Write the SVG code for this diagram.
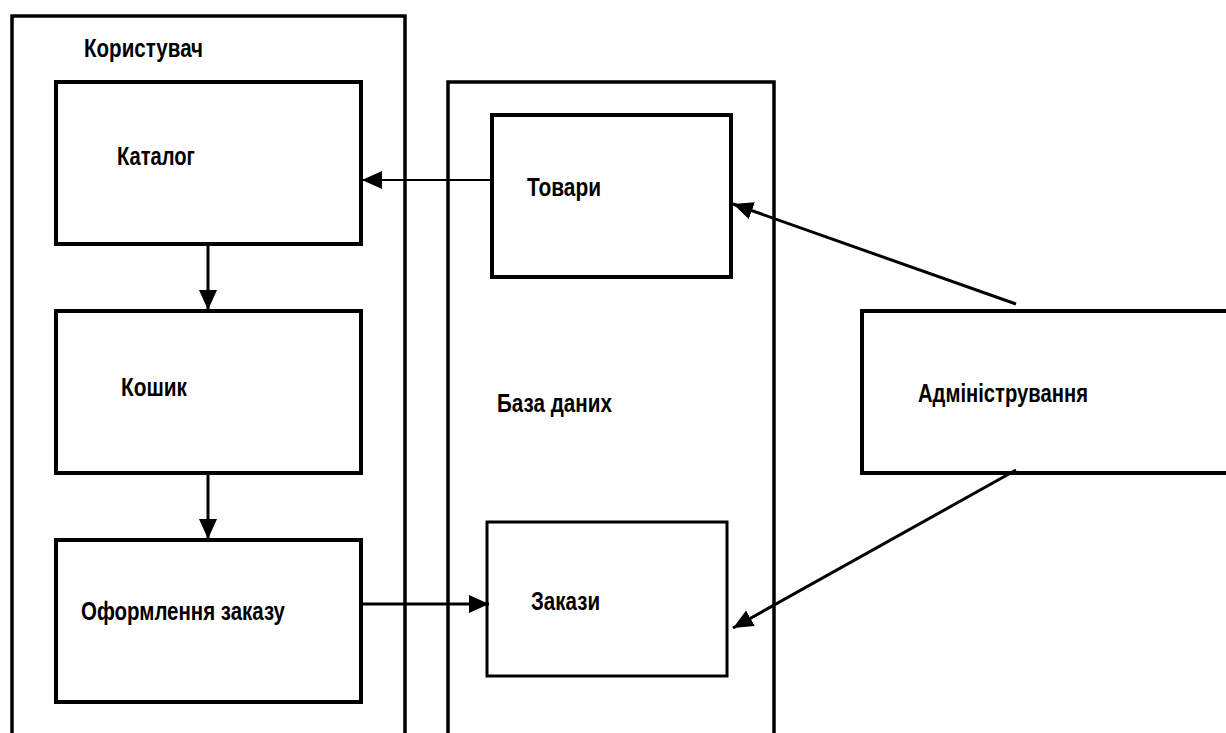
<svg xmlns="http://www.w3.org/2000/svg" width="1226" height="733" viewBox="0 0 1226 733">
<style>
.frame{fill:none;stroke:#000;stroke-width:3.5}
.box{fill:#fff;stroke:#000;stroke-width:4}
.lbl{font-family:"Liberation Sans",Arial,sans-serif;font-weight:bold;font-size:25px;fill:#000}
.con{stroke:#000;stroke-width:3;fill:none}
</style>
<defs>
<marker id="ah" markerUnits="userSpaceOnUse" markerWidth="21" markerHeight="19" refX="20" refY="9" orient="auto">
<path d="M0,0 L20,9 L0,18 z" fill="#000"/>
</marker>
</defs>
<rect width="1226" height="733" fill="#fff"/>
<g id="user-frame">
<path class="frame" d="M12,740 V16 H405 V740"/>
<text class="lbl" x="84" y="57" textLength="119" lengthAdjust="spacingAndGlyphs">Користувач</text>
</g>
<g id="db-frame">
<path class="frame" d="M448,740 V82 H774 V740"/>
<text class="lbl" x="497" y="412" textLength="115" lengthAdjust="spacingAndGlyphs">База даних</text>
</g>
<g id="catalog">
<rect class="box" x="56" y="82" width="305" height="162"/>
<text class="lbl" x="117" y="165" textLength="78" lengthAdjust="spacingAndGlyphs">Каталог</text>
</g>
<g id="cart">
<rect class="box" x="56" y="311" width="305" height="162"/>
<text class="lbl" x="121" y="396" textLength="66" lengthAdjust="spacingAndGlyphs">Кошик</text>
</g>
<g id="checkout">
<rect class="box" x="56" y="540" width="305" height="162"/>
<text class="lbl" x="81" y="620" textLength="204" lengthAdjust="spacingAndGlyphs">Оформлення заказу</text>
</g>
<g id="goods">
<rect class="box" x="492" y="115" width="239" height="162"/>
<text class="lbl" x="527" y="196" textLength="74" lengthAdjust="spacingAndGlyphs">Товари</text>
</g>
<g id="orders">
<rect class="box" x="487" y="522" width="240" height="154" style="stroke-width:3"/>
<text class="lbl" x="531" y="610" textLength="69" lengthAdjust="spacingAndGlyphs">Закази</text>
</g>
<g id="admin">
<rect class="box" x="862" y="311" width="380" height="162"/>
<text class="lbl" x="918" y="402" textLength="170" lengthAdjust="spacingAndGlyphs">Адміністрування</text>
</g>
<g id="connectors">
<line class="con" x1="490" y1="180" x2="362" y2="180" style="stroke-width:2" marker-end="url(#ah)"/>
<line class="con" x1="208" y1="246" x2="208" y2="310" marker-end="url(#ah)"/>
<line class="con" x1="208" y1="475" x2="208" y2="539" marker-end="url(#ah)"/>
<line class="con" x1="363" y1="604" x2="489" y2="604" marker-end="url(#ah)"/>
<line class="con" x1="1016" y1="304" x2="733" y2="204" marker-end="url(#ah)"/>
<line class="con" x1="1016" y1="470" x2="733" y2="628" marker-end="url(#ah)"/>
</g>
</svg>
